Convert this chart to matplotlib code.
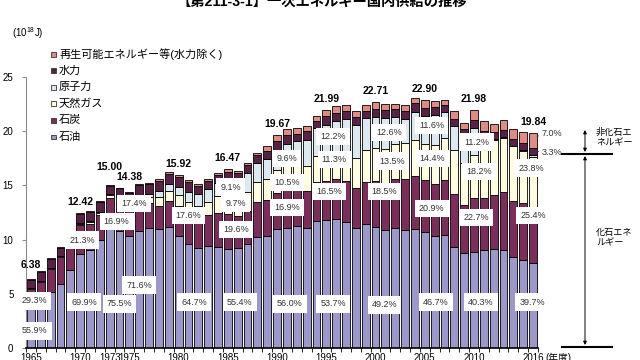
import numpy as np
import matplotlib
matplotlib.use("Agg")
import matplotlib.pyplot as plt
from matplotlib.patches import Rectangle, FancyArrowPatch
from matplotlib.lines import Line2D

plt.rcParams['font.family'] = ['Liberation Sans', 'Noto Sans CJK JP']
plt.rcParams['mathtext.default'] = 'regular'

# data (10^18 J), fiscal years 1965-2016
years = list(range(1965, 2017))
oil = [3.57, 4.15, 5.15, 5.95, 7.15, 8.68, 9.05, 9.95, 11.33, 10.75,
       10.30, 10.80, 11.05, 10.95, 11.15, 10.30, 9.60, 9.20, 9.40, 9.30,
       9.12, 9.20, 9.60, 10.20, 10.35, 11.02, 11.10, 11.30, 11.05, 11.75,
       11.81, 11.90, 11.60, 11.10, 11.40, 11.17, 10.90, 11.10, 10.90, 11.00,
       10.69, 10.30, 10.40, 9.30, 8.80, 8.86, 9.05, 9.15, 9.00, 8.40,
       8.15, 7.88]
coal = [1.87, 1.90, 2.15, 2.40, 2.55, 2.65, 2.40, 2.35, 2.54, 2.70,
        2.50, 2.45, 2.30, 2.15, 2.40, 2.80, 2.90, 2.90, 2.90, 3.20,
        3.23, 3.00, 3.05, 3.30, 3.30, 3.32, 3.45, 3.40, 3.45, 3.60,
        3.63, 3.70, 3.85, 3.65, 3.95, 4.20, 4.35, 4.50, 4.70, 4.85,
        4.79, 4.80, 5.10, 4.95, 4.40, 4.99, 4.80, 4.95, 5.35, 5.15,
        5.20, 5.04]
gas = [0.08, 0.09, 0.10, 0.11, 0.12, 0.15, 0.16, 0.20, 0.23, 0.30,
       0.36, 0.45, 0.55, 0.80, 0.92, 0.97, 1.00, 1.03, 1.20, 1.50,
       1.60, 1.65, 1.75, 1.85, 1.95, 2.07, 2.20, 2.25, 2.30, 2.40,
       2.48, 2.60, 2.70, 2.80, 2.95, 3.07, 3.10, 3.20, 3.35, 3.35,
       3.30, 3.60, 3.90, 4.00, 3.90, 4.00, 4.60, 5.05, 5.05, 5.05,
       4.80, 4.72]
nuclear = [0.00, 0.01, 0.01, 0.01, 0.01, 0.04, 0.08, 0.09, 0.09, 0.19,
           0.30, 0.40, 0.35, 0.60, 0.70, 0.75, 0.90, 1.05, 1.15, 1.25,
           1.50, 1.55, 1.75, 1.70, 1.80, 1.89, 2.05, 2.10, 2.40, 2.55,
           2.68, 2.75, 2.95, 3.00, 2.90, 2.86, 2.85, 2.55, 2.15, 2.60,
           2.66, 2.75, 2.35, 2.20, 2.40, 2.46, 0.90, 0.15, 0.10, 0.00,
           0.08, 0.16]
hydro = [0.78, 0.83, 0.79, 0.80, 0.85, 0.80, 0.87, 0.91, 0.71, 0.80,
         0.84, 0.90, 0.85, 0.90, 0.88, 0.95, 0.95, 0.77, 0.80, 0.70,
         0.83, 0.75, 0.70, 0.75, 0.80, 0.83, 0.85, 0.70, 0.80, 0.60,
         0.77, 0.72, 0.78, 0.78, 0.70, 0.77, 0.73, 0.70, 0.77, 0.77,
         0.66, 0.75, 0.65, 0.70, 0.70, 0.70, 0.70, 0.65, 0.65, 0.68,
         0.67, 0.65]
renew = [0.08, 0.08, 0.08, 0.08, 0.08, 0.10, 0.10, 0.10, 0.10, 0.06,
         0.08, 0.15, 0.15, 0.15, 0.15, 0.15, 0.15, 0.15, 0.15, 0.15,
         0.19, 0.20, 0.25, 0.20, 0.40, 0.54, 0.55, 0.55, 0.50, 0.50,
         0.62, 0.63, 0.57, 0.57, 0.50, 0.64, 0.57, 0.45, 0.58, 0.53,
         0.80, 0.60, 0.50, 0.75, 0.60, 0.97, 0.92, 0.75, 0.85, 0.92,
         1.00, 1.39]

total_years = [1965, 1970, 1973, 1975, 1980, 1985, 1990, 1995, 2000, 2005, 2010, 2016]
total_text = ['6.38', '12.42', '15.00', '14.38', '15.92', '16.47', '19.67',
              '21.99', '22.71', '22.90', '21.98', '19.84']

# share labels: text, x (year), y (10^18 J)
share_text = ['55.9%', '29.3%', '69.9%', '21.3%', '75.5%', '16.9%', '71.6%', '17.4%',
              '64.7%', '17.6%', '55.4%', '19.6%', '9.7%', '9.1%',
              '56.0%', '16.9%', '10.5%', '9.6%', '53.7%', '16.5%', '11.3%', '12.2%',
              '49.2%', '18.5%', '13.5%', '12.6%', '46.7%', '20.9%', '14.4%', '11.6%',
              '40.3%', '22.7%', '18.2%', '11.2%', '39.7%', '25.4%', '23.8%']
share_x = [1965.4, 1965.3, 1970.4, 1970.2, 1974.0, 1973.7, 1976.0, 1975.5,
           1981.6, 1981.0, 1986.2, 1985.8, 1985.8, 1985.3,
           1991.3, 1991.0, 1991.0, 1991.0, 1995.7, 1995.3, 1995.8, 1995.7,
           2000.9, 2000.9, 2001.7, 2001.4, 2006.1, 2005.7, 2005.7, 2005.7,
           2010.7, 2010.2, 2010.5, 2010.3, 2015.9, 2016.0, 2015.8]
share_y = [1.57, 4.34, 4.24, 9.96, 4.06, 11.7, 5.81, 13.3,
           4.24, 12.2, 4.24, 10.9, 13.3, 14.85,
           4.06, 13.0, 15.3, 17.45, 4.06, 14.4, 17.35, 19.5,
           3.97, 14.4, 17.25, 19.9, 4.24, 12.9, 17.45, 20.5,
           4.24, 12.0, 16.3, 19.0, 4.24, 12.2, 16.6]

series = [('石油', oil, '#9D98CB'),
          ('石炭', coal, '#7D2D5A'),
          ('天然ガス', gas, '#FFFCE0'),
          ('原子力', nuclear, '#DCE9F1'),
          ('水力', hydro, '#5A2147'),
          ('再生可能エネルギー等(水力除く)', renew, '#E08A84')]

W, H = 640, 360
fig = plt.figure(figsize=(6.4, 3.6), dpi=100)
ax = fig.add_axes([26 / W, 12 / H, 512 / W, 271 / H])

x = np.arange(len(years))
bottom = np.zeros(len(years))
for name, vals, col in series:
    ax.bar(x, vals, 0.8, bottom=bottom, color=col, edgecolor='black', linewidth=0.6, label=name)
    bottom += np.array(vals)
totals = bottom

ax.set_xlim(-0.5, len(years) - 0.5)
ax.set_ylim(0, 25)
for s in ['top', 'right']:
    ax.spines[s].set_visible(False)
ax.spines['left'].set_color('#8c8c8c')
ax.spines['bottom'].set_linewidth(1.2)

ax.set_yticks([0, 5, 10, 15, 20, 25])
ax.tick_params(axis='y', length=3, color='#8c8c8c', labelsize=7, pad=6)
tick_years = [1965, 1970, 1973, 1975, 1980, 1985, 1990, 1995, 2000, 2005, 2010, 2016]
ax.set_xticks([years.index(y) for y in tick_years])
ax.set_xticklabels([str(y) for y in tick_years])
ax.set_xticks(np.arange(-0.5, len(years), 1), minor=True)
ax.tick_params(axis='x', which='major', length=0, labelsize=7, pad=3.5)
ax.tick_params(axis='x', which='minor', length=3, width=0.6)
ax.annotate('(年度)', xy=(len(years) - 1, 0), xytext=(8.5, -3.5), textcoords='offset points',
            ha='left', va='top', fontsize=7, annotation_clip=False)

# totals
for yr, t in zip(total_years, total_text):
    i = years.index(yr)
    dy = {1965: 10, 1973: 13, 1975: 11}.get(yr, 8)
    ax.annotate(t, xy=(i, totals[i]), xytext=(0, dy), textcoords='offset points',
                ha='center', va='center', fontsize=7.5, fontweight='bold')

# shares
for t, sx, sy in zip(share_text, share_x, share_y):
    ax.text(sx - 1965, sy, t, ha='center', va='center', fontsize=6.5, color='#333333',
            bbox=dict(boxstyle='square,pad=0.45', fc='white', ec='none'))

i = len(years) - 1
ax.annotate('7.0%', xy=(i + 0.4, totals[i] - 0.3), xytext=(i + 0.85, totals[i] - 0.05),
            ha='left', va='center', fontsize=6.5, color='#333333', annotation_clip=False,
            arrowprops=dict(arrowstyle='-', lw=0.6, color='#333333', shrinkA=0, shrinkB=0))
ax.annotate('3.3%', xy=(i + 0.4, totals[i] - renew[i] - hydro[i] / 2),
            xytext=(i + 0.85, totals[i] - renew[i] - hydro[i] / 2 - 0.05),
            ha='left', va='center', fontsize=6.5, color='#333333', annotation_clip=False,
            arrowprops=dict(arrowstyle='-', lw=0.6, color='#333333', shrinkA=0, shrinkB=0))

# title and unit
fig.text(322 / W, 1 - 1.5 / H, '【第211-3-1】一次エネルギー国内供給の推移', ha='center', va='center',
         fontsize=10.3, fontweight='bold')
fig.text(12 / W, 1 - 33 / H, '(10$^{18}$J)', ha='left', va='center', fontsize=7)

# legend
for k, (name, vals, col) in enumerate(series[::-1]):
    yk = 54 + 16.6 * k
    fig.add_artist(Rectangle((51 / W, 1 - (yk + 2.5) / H), 5 / W, 5 / H, transform=fig.transFigure,
                             facecolor=col, edgecolor='#333333', lw=0.6))
    fig.text(59 / W, 1 - yk / H, name, ha='left', va='center', fontsize=8)


# fossil / non-fossil brackets
def fx(px):
    return px / W


def fy(py):
    return 1 - py / H


for py in (154, 347):
    fig.add_artist(Line2D([fx(562), fx(612)], [fy(py), fy(py)], color='black', lw=1.5,
                          transform=fig.transFigure))
for y0, y1 in ((130, 152), (156, 345)):
    fig.add_artist(FancyArrowPatch((fx(585), fy(y0)), (fx(585), fy(y1)),
                                   arrowstyle='<|-|>', mutation_scale=5, lw=0.7, color='black',
                                   transform=fig.transFigure, shrinkA=0, shrinkB=0))
fig.text(fx(596), fy(138), '非化石エ\nネルギー', ha='left', va='center', fontsize=6.6, linespacing=1.2)
fig.text(fx(596), fy(238), '化石エネ\nルギー', ha='left', va='center', fontsize=6.6, linespacing=1.2)

fig.savefig('out.png', dpi=100)
